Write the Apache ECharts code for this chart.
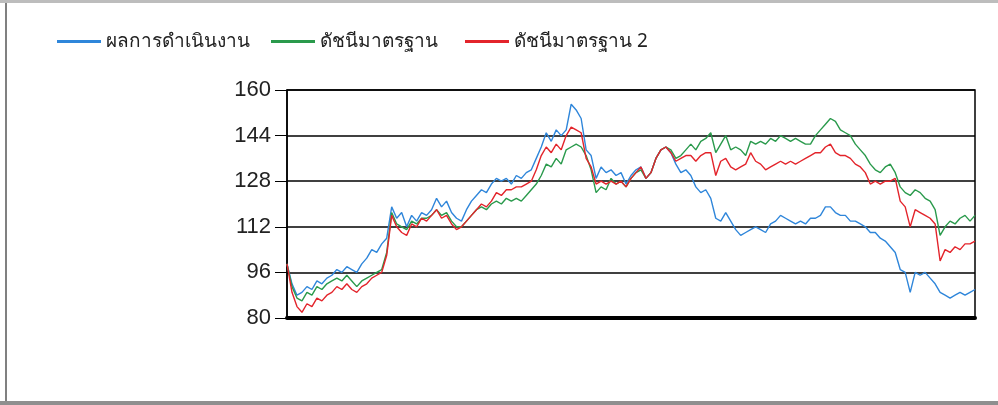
<!DOCTYPE html>
<html>
<head>
<meta charset="utf-8">
<script src="https://cdn.jsdelivr.net/npm/echarts@6/dist/echarts.min.js"></script>
<style>
html,body{margin:0;padding:0;background:#fff;}
#wrap{position:relative;width:998px;height:405px;overflow:hidden;background:#fff;}
#chart{position:absolute;left:0;top:0;width:998px;height:405px;}
.b{position:absolute;}
</style>
</head>
<body>
<div id="wrap">
<div id="chart"></div>
<div class="b" style="left:0;top:0;width:998px;height:3px;background:#bdbdbd;"></div>
<div class="b" style="left:5px;top:3px;width:2px;height:398px;background:#808080;"></div>
<div class="b" style="left:0;top:401px;width:998px;height:4px;background:#8f8f8f;"></div>
</div>
<script>
var seriesNames = ['ผลการดำเนินงาน', 'ดัชนีมาตรฐาน', 'ดัชนีมาตรฐาน 2'];
var yTicks = [80, 96, 112, 128, 144, 160];

var performance = [
99,92,88,89,91,90,93,92,94,95,97,96,98,97,96,99,101,104,103,106,
108,119,115,117,112,116,114,117,116,118,122,119,121,117,115,114,118,121,123,125,
124,127,129,128,129,127,130,129,131,132,136,140,145,142,146,144,146,155,153,150,
139,137,129,133,131,132,130,131,127,130,132,133,129,131,136,139,140,138,134,131,
132,130,126,124,125,122,115,114,117,114,111,109,110,111,112,111,110,113,114,116,
115,114,113,114,113,115,115,116,119,119,117,116,116,114,114,113,112,110,110,108,
107,105,103,97,96,89,96,95,96,94,92,89,88,87,88,89,88,89,90
];
var benchmark = [
99,91,87,86,89,88,91,90,92,93,94,93,95,93,91,93,94,95,96,97,
103,117,113,112,111,114,113,115,115,116,118,116,117,114,112,112,114,116,118,119,
118,120,121,120,122,121,122,121,123,125,127,130,134,133,136,134,139,140,141,140,
137,132,124,126,125,129,127,128,126,129,131,132,129,131,136,139,140,139,136,137,
139,141,139,142,143,145,138,141,144,139,140,139,137,142,141,142,141,143,142,144,
143,142,143,142,141,141,144,146,148,150,149,146,145,144,141,139,137,134,132,131,
133,134,131,126,124,123,125,124,122,121,118,109,112,114,113,115,116,114,116
];
var benchmark2 = [
99,89,84,82,85,84,87,86,88,89,91,90,92,90,89,91,92,94,95,96,
102,116,112,110,109,113,112,115,114,116,118,115,116,113,111,112,114,116,118,120,
119,121,124,123,125,125,126,126,127,128,132,137,140,138,141,139,144,147,146,145,
136,133,127,128,127,128,127,128,126,129,131,133,129,131,136,139,140,138,135,136,
137,137,135,137,138,138,130,135,136,133,132,133,134,138,135,134,132,133,134,135,
134,135,134,135,136,137,138,138,140,141,138,137,137,136,134,133,131,127,128,127,
128,128,129,121,119,112,118,117,116,115,113,100,104,103,105,104,106,106,107
];

var categories = performance.map(function(_, i){ return String(i + 1); });

var chart = echarts.init(document.getElementById('chart'), null, {renderer: 'canvas'});
var thaiFont = '"Noto Sans", "DejaVu Sans", sans-serif';
var legendLefts = [52, 266, 460];
var legends = seriesNames.map(function(n, i){
  return {
    left: legendLefts[i],
    top: 27,
    icon: 'rect',
    itemWidth: 44,
    itemHeight: 3,
    textStyle: {fontSize: 19, color: '#222', fontFamily: thaiFont},
    data: [n]
  };
});
chart.setOption({
  animation: false,
  backgroundColor: '#ffffff',
  color: ['#2f86da', '#2a9a4c', '#e3242b'],
  legend: legends,
  grid: {
    left: 287, right: 23, top: 90, bottom: 87,
    show: true, borderColor: '#000', borderWidth: 1.5, backgroundColor: '#fff'
  },
  xAxis: {
    type: 'category',
    data: categories,
    boundaryGap: false,
    axisLine: {show: true, lineStyle: {color: '#000', width: 4}},
    axisTick: {show: false},
    axisLabel: {show: false},
    splitLine: {show: false}
  },
  yAxis: {
    type: 'value',
    min: yTicks[0],
    max: yTicks[yTicks.length - 1],
    interval: yTicks[1] - yTicks[0],
    axisLine: {show: true, lineStyle: {color: '#000', width: 1.5}},
    axisTick: {show: true, length: 12, lineStyle: {color: '#000', width: 1}},
    axisLabel: {fontSize: 22, color: '#222', margin: 16, fontFamily: '"Liberation Sans", Arial, sans-serif'},
    splitLine: {show: true, lineStyle: {color: '#000', width: 1.5}}
  },
  series: [
    {name: seriesNames[0], type: 'line', data: performance, showSymbol: false, lineStyle: {width: 1.4}},
    {name: seriesNames[1], type: 'line', data: benchmark, showSymbol: false, lineStyle: {width: 1.4}},
    {name: seriesNames[2], type: 'line', data: benchmark2, showSymbol: false, lineStyle: {width: 1.4}}
  ]
});
</script>
</body>
</html>
